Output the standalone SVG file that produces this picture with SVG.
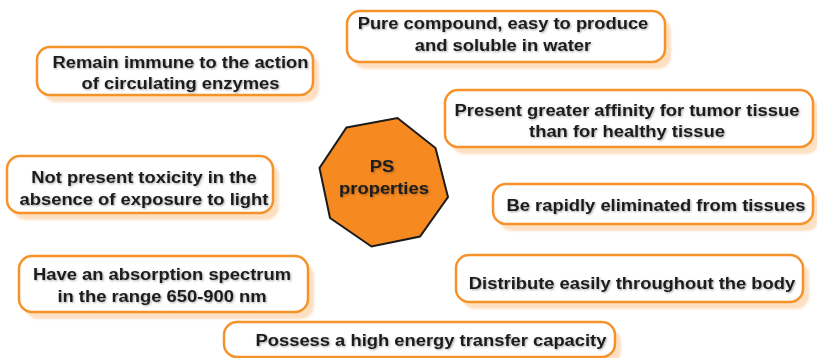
<svg xmlns="http://www.w3.org/2000/svg" width="817" height="358" viewBox="0 0 817 358">
  <defs>
    <filter id="soft" x="-10%" y="-20%" width="120%" height="140%">
      <feGaussianBlur stdDeviation="1.2"/>
    </filter>
    <filter id="txtShadow" x="-10%" y="-30%" width="120%" height="160%">
      <feGaussianBlur in="SourceAlpha" stdDeviation="0.8" result="b"/>
      <feOffset dx="1" dy="1" result="o"/>
      <feComponentTransfer in="o" result="s"><feFuncA type="linear" slope="0.35"/></feComponentTransfer>
      <feMerge><feMergeNode in="s"/><feMergeNode in="SourceGraphic"/></feMerge>
    </filter>
  </defs>
  <style>
    .shadow { fill: #fde0c2; filter: url(#soft); }
    .box { fill: #ffffff; stroke: #f5922a; stroke-width: 2.5; }
    .label { font-family: "Liberation Sans", Arial, sans-serif; font-weight: bold; font-size: 17px; fill: #1c1c1c; text-anchor: middle; filter: url(#txtShadow);
             transform-box: fill-box; transform-origin: center; transform: scaleX(1.08); }
    .hub { fill: #f68a20; stroke: #1a1a1a; stroke-width: 2; stroke-linejoin: miter; }
  </style>

  <rect width="817" height="358" fill="#ffffff"/>

  <g id="connectors"/>

  <!-- central octagon -->
  <g id="hub">
    <polygon class="hub" points="346.5,127.5 397.5,118 435.5,148 448,197 420,236.5 371.5,246.5 330,218 319.5,168"/>
    <text class="label" x="382" y="172">PS</text>
    <text class="label" x="384" y="194">properties</text>
  </g>

  <g id="immune">
    <rect class="shadow" x="43" y="54" width="276" height="48" rx="13"/>
    <rect class="box" x="37" y="47" width="276" height="48" rx="13"/>
    <text class="label" x="180.5" y="68">Remain immune to the action</text>
    <text class="label" x="180.5" y="89">of circulating enzymes</text>
  </g>

  <g id="pure">
    <rect class="shadow" x="353" y="18" width="318" height="51" rx="13"/>
    <rect class="box" x="347" y="11" width="318" height="51" rx="13"/>
    <text class="label" x="503" y="29.5">Pure compound, easy to produce</text>
    <text class="label" x="503" y="51.5">and soluble in water</text>
  </g>

  <g id="affinity">
    <rect class="shadow" x="451" y="97" width="368" height="57" rx="13"/>
    <rect class="box" x="445" y="90" width="368" height="57" rx="13"/>
    <text class="label" x="627" y="116">Present greater affinity for tumor tissue</text>
    <text class="label" x="627" y="137.5">than for healthy tissue</text>
  </g>

  <g id="toxicity">
    <rect class="shadow" x="13" y="163" width="266" height="57" rx="13"/>
    <rect class="box" x="7" y="156" width="266" height="57" rx="13"/>
    <text class="label" x="144" y="183">Not present toxicity in the</text>
    <text class="label" x="144" y="205">absence of exposure to light</text>
  </g>

  <g id="eliminated">
    <rect class="shadow" x="499" y="191" width="320" height="40" rx="13"/>
    <rect class="box" x="493" y="184" width="320" height="40" rx="13"/>
    <text class="label" x="656" y="211.5">Be rapidly eliminated from tissues</text>
  </g>

  <g id="absorption">
    <rect class="shadow" x="25" y="263" width="289" height="56" rx="13"/>
    <rect class="box" x="19" y="256" width="289" height="56" rx="13"/>
    <text class="label" x="162" y="280.5">Have an absorption spectrum</text>
    <text class="label" x="162" y="302">in the range 650-900 nm</text>
  </g>

  <g id="distribute">
    <rect class="shadow" x="462" y="262" width="347" height="47" rx="13"/>
    <rect class="box" x="456" y="255" width="347" height="47" rx="13"/>
    <text class="label" x="632" y="289">Distribute easily throughout the body</text>
  </g>

  <g id="energy">
    <rect class="shadow" x="230" y="329" width="391" height="35" rx="13"/>
    <rect class="box" x="224" y="322" width="391" height="35" rx="13"/>
    <text class="label" x="431" y="346">Possess a high energy transfer capacity</text>
  </g>
</svg>
